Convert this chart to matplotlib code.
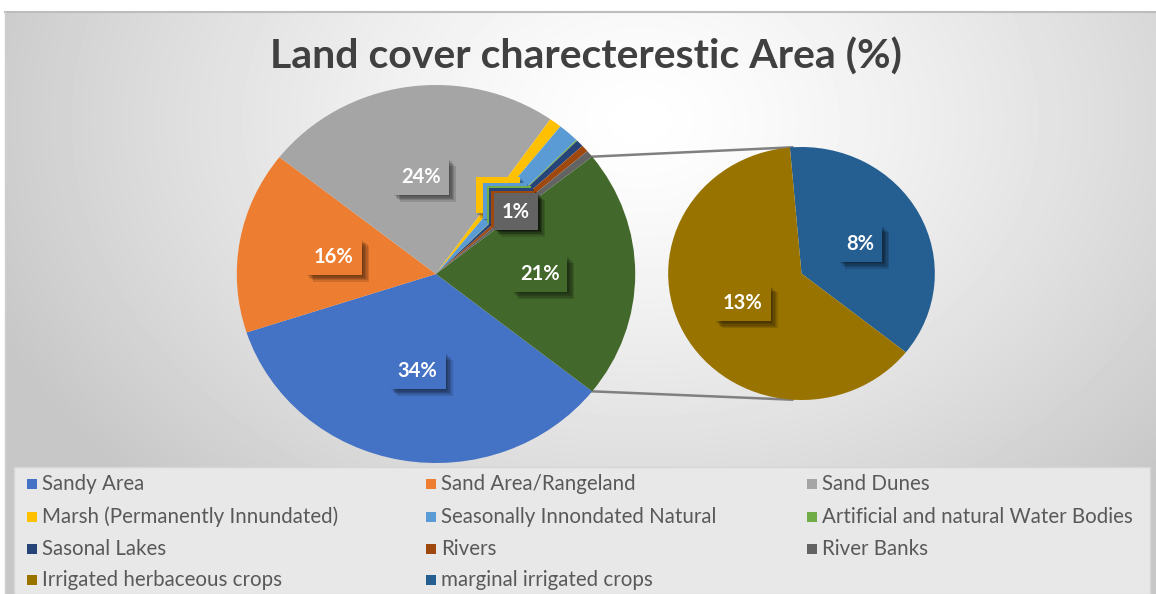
import numpy as np
import matplotlib
matplotlib.use("Agg")
import matplotlib.pyplot as plt
import matplotlib.patheffects as pe
from matplotlib.patches import Rectangle

# data (percent of area)
categories = ["Sandy Area", "Sand Area/Rangeland", "Sand Dunes",
              "Marsh (Permanently Innundated)", "Seasonally Innondated Natural",
              "Artificial and natural Water Bodies", "Sasonal Lakes", "Rivers",
              "River Banks", "Irrigated herbaceous crops", "marginal irrigated crops"]
values = [34.3, 15.6, 24.1, 1.0, 1.7, 0.1, 0.6, 0.6, 0.6, 13.4, 7.9]
colors = ["#4472C4", "#ED7D31", "#A5A5A5", "#FFC000", "#5B9BD5", "#70AD47",
          "#264478", "#9E480E", "#636363", "#997300", "#255E91"]
other_color = "#43682B"
n_second = 2  # last two go to the secondary pie

W, H = 1156, 594
SX = 1.054  # horizontal stretch of the original picture

plt.rcParams['font.family'] = ['Lato', 'DejaVu Sans']
fig = plt.figure(figsize=(W / 100, H / 100), dpi=100)
ax = fig.add_axes([0, 0, 1, 1])

def px(x, y):
    # picture pixel -> data coords
    return x / SX, H - y

# background gradient
yy, xx = np.mgrid[0:H, 0:W]
d = np.sqrt(((xx - 640) / 700.0) ** 2 + ((yy - 120) / 520.0) ** 2)
bg = 1.0 - 0.22 * np.clip(d, 0, 1) ** 1.3
bg[yy < 12] = 1.0
bg[xx < 5] = 1.0
ax.imshow(bg, cmap="gray", vmin=0, vmax=1, extent=(0, W / SX, 0, H),
          origin="upper", zorder=0, aspect="auto")
ax.plot([5 / SX, W / SX], [H - 12, H - 12], color="#bdbdbd", lw=1.5, zorder=1)
ax.plot([5 / SX, 5 / SX], [0, H - 12], color="#d0d0d0", lw=1, zorder=1)

main_vals = values[:-n_second] + [sum(values[-n_second:])]
main_cols = colors[:-n_second] + [other_color]
sec_vals = values[-n_second:][::-1]
sec_cols = colors[-n_second:][::-1]

total = sum(main_vals)
half_other = main_vals[-1] / total * 360 / 2

c_main = px(436, 274)
r_main = 189
c_sec = px(801.5, 273.5)
r_sec = 126.5

# soft shadow: several faint offset copies
soft_shadow = [pe.SimplePatchShadow(offset=(o, -o), shadow_rgbFace="black", alpha=0.13)
               for o in (1, 2, 3, 4, 5)] + [pe.Normal()]

def style_labels(texts, cols):
    for t, c in zip(texts, cols):
        t.set_color("white")
        t.set_fontweight("bold")
        t.set_fontsize(14.5)
        t.set_bbox(dict(boxstyle="square,pad=0.4", fc=c, ec="none"))
        t.get_bbox_patch().set_path_effects(soft_shadow)
        t.set_zorder(6)

w1, _, at1 = ax.pie(main_vals, colors=main_cols, center=c_main, radius=r_main,
                    startangle=-half_other, counterclock=False,
                    autopct=lambda p: f"{p:.0f}%", pctdistance=0.52,
                    wedgeprops=dict(linewidth=0, zorder=3), frame=True)
style_labels(at1, main_cols)

w2, _, at2 = ax.pie(sec_vals, colors=sec_cols, center=c_sec, radius=r_sec,
                    startangle=95, counterclock=False,
                    autopct=lambda p: f"{p * sum(sec_vals) / total:.0f}%",
                    pctdistance=0.5, wedgeprops=dict(linewidth=0, zorder=3), frame=True)
style_labels(at2, sec_cols)

# connector lines
for s in (1, -1):
    a = np.radians(s * half_other)
    b = np.radians(s * 94)
    x0 = c_main[0] + r_main * np.cos(a)
    y0 = c_main[1] + r_main * np.sin(a)
    x1 = c_sec[0] + r_sec * np.cos(b)
    y1 = c_sec[1] + r_sec * np.sin(b)
    ax.plot([x0, x1], [y0, y1], color="#808080", lw=1.8, zorder=2)

ax.set_aspect("auto")
ax.set_xlim(0, W / SX)
ax.set_ylim(0, H)
ax.axis("off")

# title
fig.text(586 / W, 1 - 57 / H, "Land cover charecterestic Area (%)",
         ha="center", va="center", fontsize=29.5, fontweight="bold", color="#404040")

# legend
fig.patches.append(Rectangle((14 / W, 0), (1150 - 14) / W, 1 - 467 / H,
                             transform=fig.transFigure, fc="#e8e8e8",
                             ec="#d6d6d6", lw=1, zorder=0))
col_x = [42, 441, 822]
row_y = [484, 517, 549, 580]
for i, (name, c) in enumerate(zip(categories, colors)):
    r, k = divmod(i, 3)
    x, y = col_x[k], row_y[r]
    fig.patches.append(Rectangle(((x - 15) / W, 1 - (y + 5) / H), 10 / W, 10 / H,
                                 transform=fig.transFigure, fc=c, ec="none", zorder=2))
    fig.text(x / W, 1 - y / H, name, ha="left", va="center", fontsize=14.8,
             color="#595959")

fig.savefig("out.png", dpi=100)
